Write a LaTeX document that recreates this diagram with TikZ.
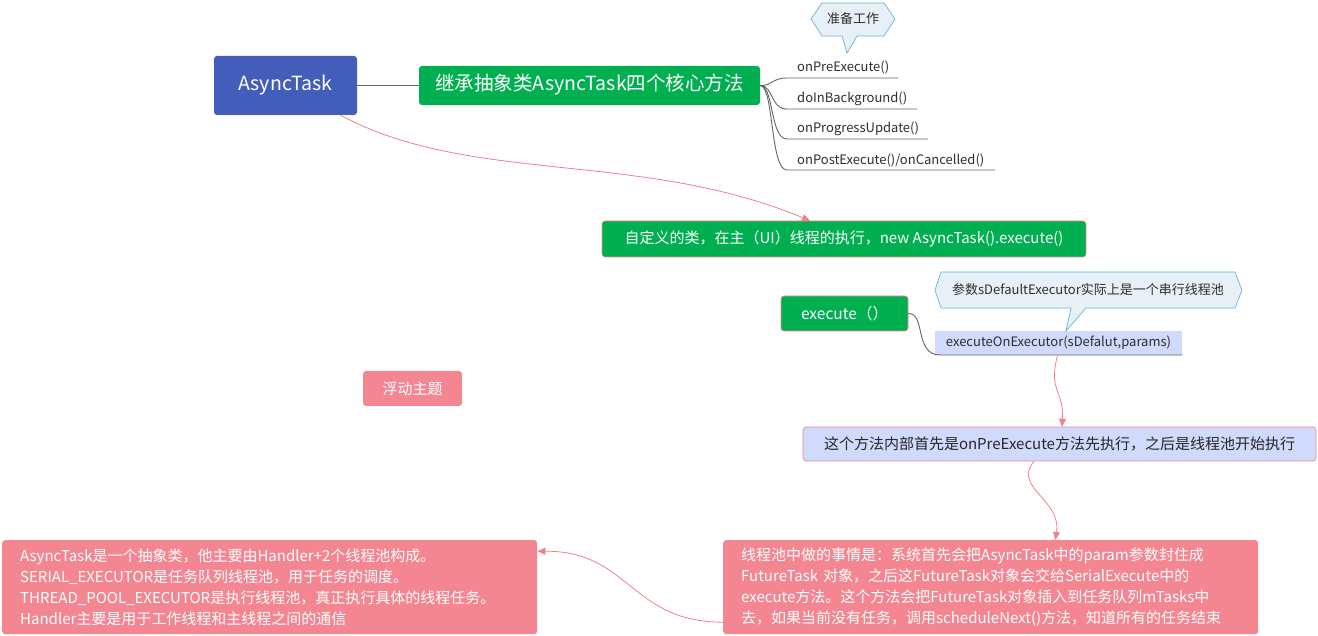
\documentclass[tikz,border=0pt]{standalone}
\usepackage{fontspec}
\setmainfont{Noto Sans CJK SC}
\usetikzlibrary{arrows.meta}
\definecolor{blueA}{RGB}{66,94,186}
\definecolor{greenA}{RGB}{0,176,80}
\definecolor{pinkA}{RGB}{243,134,145}
\definecolor{arrowA}{RGB}{242,128,138}
\definecolor{lavA}{RGB}{208,218,252}
\definecolor{callF}{RGB}{232,240,247}
\definecolor{callD}{RGB}{100,180,215}
\definecolor{greyA}{RGB}{100,100,100}
\definecolor{textD}{RGB}{45,45,45}
\begin{document}
\begin{tikzpicture}[x=1pt,y=-1pt,
  box/.style={rounded corners=3pt, inner sep=0pt, text=white},
  lower/.style={text height=1.1em, text depth=0.12em},
  bigf/.style={font=\fontsize{19.5}{23}\selectfont},
  midf/.style={font=\fontsize{15}{18}\selectfont},
  smallf/.style={font=\fontsize{13}{16}\selectfont},
  conn/.style={draw=greyA, line width=0.9pt},
  parrow/.style={draw=arrowA, line width=0.8pt, -{Triangle[length=8pt,width=7pt]}},
  branch/.style={smallf, text=textD, inner sep=0pt, anchor=west},
  callout/.style={draw=callD, fill=callF, line width=0.7pt},
  para/.style={box, fill=pinkA, anchor=north west, minimum width=535pt, minimum height=94pt,
     text width=499pt, align=left, font=\fontsize{15}{20.8}\selectfont}
]
\useasboundingbox (0,0) rectangle (1318,636);

% main nodes
\node[box, bigf, lower, fill=blueA, minimum width=143pt, minimum height=59pt] (A) at (285.5,85.5) {AsyncTask};
\node[box, bigf, lower, fill=greenA, minimum width=341pt, minimum height=39pt] (g1) at (589.5,85.5) {继承抽象类AsyncTask四个核心方法};
\draw[conn] (A.east) -- (g1.west);

% branches
\node[branch] (pre) at (797,67) {onPreExecute()};
\node[branch] (doin) at (797,98.5) {doInBackground()};
\node[branch] (prog) at (797,129) {onProgressUpdate()};
\node[branch] (post) at (797,160) {onPostExecute()/onCancelled()};
\coordinate (preE) at (898,78);
\coordinate (doinE) at (917,109);
\coordinate (progE) at (928,139);
\coordinate (postE) at (995,170);
\draw[conn] (g1.east) .. controls (772,86) and (772,78) .. (787,78) -- (preE);
\draw[conn] (g1.east) .. controls (774,86) and (770,109) .. (787,109) -- (doinE);
\draw[conn] (g1.east) .. controls (774,86) and (770,139) .. (787,139) -- (progE);
\draw[conn] (g1.east) .. controls (774,86) and (770,170) .. (787,170) -- (postE);

% callout 1
\draw[callout] (811,19) -- (822,3) -- (884,3) -- (895,19) -- (884,36) -- (857,36) -- (847,53) -- (842,36) -- (822,36) -- cycle;
\node[smallf, text=textD, inner sep=0pt] (c1) at (853,19) {准备工作};

% custom class box
\node[box, midf, lower, fill=greenA, draw=pinkA, line width=0.6pt, minimum width=484pt, minimum height=36pt] (g2) at (844,239) {自定义的类，在主（UI）线程的执行，new AsyncTask().execute()};
\draw[parrow] ([xshift=55pt]A.south) .. controls (470,185) and (640,150) .. ([xshift=-34pt]g2.north);

% execute
\node[box, font=\fontsize{15.5}{18}\selectfont, fill=greenA, draw=pinkA, line width=0.6pt, minimum width=127pt, minimum height=35pt] (exec) at (844.5,313.5) {execute（）};
\node[smallf, fill=lavA, text=textD, inner sep=0pt, minimum width=247pt, minimum height=24pt] (eoe) at (1058.5,343) {executeOnExecutor(sDefalut,params)};
\coordinate (eoeE) at (1182,355);
\draw[conn] (exec.east) .. controls (926,313) and (914,355) .. (940,355) -- (eoeE);

% callout 2
\draw[callout] (935,290) -- (941,272) -- (1235,272) -- (1242,290) -- (1235,308) -- (1086,308) -- (1066,331) -- (1071,308) -- (941,308) -- cycle;
\node[smallf, text=textD, inner sep=0pt] (c2) at (1088,290) {参数sDefaultExecutor实际上是一个串行线程池};

% box 3
\node[box, font=\fontsize{15}{18}\selectfont, fill=lavA, draw=pinkA, line width=0.6pt, text=black!85, minimum width=513pt, minimum height=34pt] (b3) at (1059.5,444) {这个方法内部首先是onPreExecute方法先执行，之后是线程池开始执行};
\draw[parrow] ([xshift=-1pt]eoe.south) .. controls (1048,392) and (1064,390) .. ([xshift=2.5pt]b3.north);

% pink paragraphs
\node[para] (pR) at (723,540) {线程池中做的事情是：系统首先会把AsyncTask中的param参数封住成\\FutureTask 对象，之后这FutureTask对象会交给SerialExecute中的\\execute方法。这个方法会把FutureTask对象插入到任务队列mTasks中\\去，如果当前没有任务，调用scheduleNext()方法，知道所有的任务结束};
\node[para] (pL) at (2,540) {AsyncTask是一个抽象类，他主要由Handler+2个线程池构成。\\SERIAL\_EXECUTOR是任务队列线程池，用于任务的调度。\\THREAD\_POOL\_EXECUTOR是执行线程池，真正执行具体的线程任务。\\Handler主要是用于工作线程和主线程之间的通信};
\draw[parrow] ([xshift=-25.5pt]b3.south) .. controls (1012,487) and (1062,500) .. ([xshift=64.5pt]pR.north);
\draw[parrow] ([yshift=-35pt]pR.west) .. controls (630,622) and (630,551) .. ([yshift=36pt]pL.east);

% floating topic
\node[box, font=\fontsize{15}{18}\selectfont, fill=pinkA, minimum width=99pt, minimum height=35pt] (fl) at (412.5,388.5) {浮动主题};
\end{tikzpicture}
\end{document}
